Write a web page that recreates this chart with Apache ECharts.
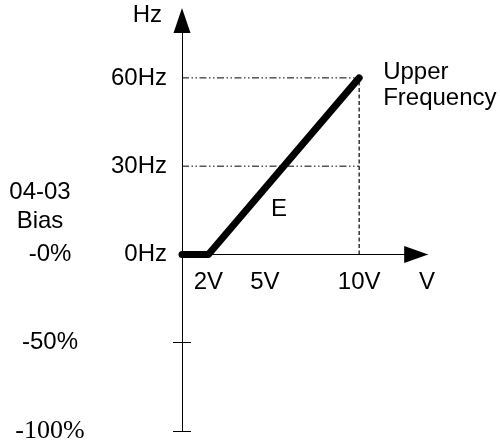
<!DOCTYPE html>
<html>
<head>
<meta charset="utf-8">
<script src="https://cdn.jsdelivr.net/npm/echarts@6/dist/echarts.min.js"></script>
<style>
html, body { margin: 0; padding: 0; background: #fff; }
#chart { width: 500px; height: 445px; }
</style>
</head>
<body>
<div id="chart"></div>
<script>
// curve E: bias -0%, output starts at 2V and reaches upper frequency at 10V
const voltage = [0.6, 2, 10]      // first point sits on the Hz axis
const freq = [0, 0, 60]
const vTicks = [2, 5, 10]
const vUnit = 'V'                 // unit label at the arrow end
const hzTicks = [0, 30, 60]
const guideHz = [30, 60]          // dash-dot guides
const upperV = 10
const upperHz = 60
const biasValues = [0, -30, -60]
const biasLabels = ['-0%', '-50%', '-100%']

const X_MIN = 0.6, X_MAX = 13.6
const Y_MIN = -60, Y_MAX = 79.5
const FONT = 'Liberation Sans'
const FS = 24

const myChart = echarts.init(document.getElementById('chart'))

// upper grid holds the V axis at 0Hz, lower grids carry the negative bias part
const upperGrid = { left: 182, right: 73, top: 20.5, bottom: 190.56, outerBoundsMode: 'none', containLabel: false }
const fullGrid = { left: 182, right: 73, top: 20.5, bottom: 14, outerBoundsMode: 'none', containLabel: false }

const guides = guideHz.map(h => ({
    type: 'line',
    xAxisIndex: 0, yAxisIndex: 0,
    data: [[X_MIN, h], [upperV, h]],
    showSymbol: false,
    silent: true,
    clip: false,
    lineStyle: { color: '#000', width: 1, type: [7, 2.5, 1.5, 2.5, 1.5, 2.5] },
    z: 1
}))

const options = {
    animation: false,
    grid: [upperGrid, Object.assign({}, fullGrid), Object.assign({}, fullGrid)],
    xAxis: [
        {
            type: 'value',
            gridIndex: 0,
            min: X_MIN,
            max: X_MAX,
            position: 'bottom',
            splitLine: { show: false },
            axisLine: {
                onZero: false,
                symbol: ['none', 'triangle'],
                symbolSize: [17, 24],
                symbolOffset: [0, -10.8],
                lineStyle: { color: '#000', width: 1 }
            },
            axisTick: { show: false },
            axisLabel: {
                customValues: vTicks.concat([X_MAX]),
                formatter: v => (v === X_MAX ? vUnit : v + 'V'),
                margin: 16,
                color: '#000',
                fontFamily: FONT,
                fontSize: FS
            }
        },
        { type: 'value', gridIndex: 1, min: X_MIN, max: X_MAX, show: false },
        { type: 'value', gridIndex: 2, min: X_MIN, max: X_MAX, show: false }
    ],
    yAxis: [
        {
            type: 'value',
            gridIndex: 0,
            min: 0,
            max: Y_MAX,
            splitLine: { show: false },
            axisLine: {
                onZero: false,
                symbol: ['none', 'triangle'],
                symbolSize: [17, 25],
                lineStyle: { color: '#000', width: 1 }
            },
            axisTick: { show: false },
            axisLabel: {
                customValues: hzTicks,
                formatter: v => v + 'Hz',
                margin: 15,
                color: '#000',
                fontFamily: FONT,
                fontSize: FS
            },
            name: 'Hz',
            nameLocation: 'end',
            nameGap: 5,
            nameTextStyle: {
                color: '#000',
                fontFamily: FONT,
                fontSize: FS,
                align: 'right',
                verticalAlign: 'middle',
                padding: [0, 20, 0, 0]
            }
        },
        {
            // lower part of the Hz axis with the bias scale far left
            type: 'value',
            gridIndex: 1,
            min: Y_MIN,
            max: Y_MAX,
            splitLine: { show: false },
            axisLine: { onZero: false, lineStyle: { color: '#000', width: 1 } },
            axisTick: {
                customValues: [-30, -60],
                length: 9,
                lineStyle: { color: '#000', width: 1 }
            },
            axisLabel: {
                customValues: biasValues,
                formatter: v => {
                    const i = biasValues.indexOf(v)
                    return i === biasValues.length - 1 ? '{s|' + biasLabels[i] + '}' : biasLabels[i]
                },
                align: 'center',
                margin: 132,
                color: '#000',
                fontFamily: FONT,
                fontSize: FS,
                rich: {
                    s: { fontFamily: 'Liberation Serif', fontSize: 26, color: '#000' }
                }
            }
        },
        {
            // inner half of the crossing ticks
            type: 'value',
            gridIndex: 2,
            min: Y_MIN,
            max: Y_MAX,
            splitLine: { show: false },
            axisLine: { show: false },
            axisLabel: { show: false },
            axisTick: {
                customValues: [-30, -60],
                inside: true,
                length: 9,
                lineStyle: { color: '#000', width: 1 }
            }
        }
    ],
    graphic: [
        { type: 'text', style: { text: '04-03', fontFamily: FONT, fontSize: FS, fill: '#000', align: 'center', verticalAlign: 'middle', x: 40, y: 192 } },
        { type: 'text', style: { text: 'Bias', fontFamily: FONT, fontSize: FS, fill: '#000', align: 'center', verticalAlign: 'middle', x: 40, y: 221 } },
        { type: 'text', style: { text: 'E', fontFamily: FONT, fontSize: FS, fill: '#000', align: 'center', verticalAlign: 'middle', x: 279, y: 209 } }
    ],
    series: guides.concat([
        {
            type: 'line',
            xAxisIndex: 0, yAxisIndex: 0,
            data: [[upperV, 0], [upperV, upperHz]],
            showSymbol: false,
            silent: true,
            clip: false,
            lineStyle: { color: '#000', width: 1.2, type: [4, 2.5] },
            z: 1
        },
        {
            name: 'E',
            type: 'line',
            xAxisIndex: 0, yAxisIndex: 0,
            data: voltage.map((v, i) => [v, freq[i]]),
            showSymbol: false,
            silent: true,
            clip: false,
            lineStyle: { color: '#000', width: 7, cap: 'round', join: 'round' },
            z: 3,
            markPoint: {
                symbol: 'circle',
                symbolSize: 0,
                silent: true,
                data: [{ coord: [upperV, upperHz] }],
                label: {
                    show: true,
                    formatter: 'Upper\nFrequency',
                    position: 'right',
                    distance: 24,
                    offset: [0, 7],
                    align: 'left',
                    color: '#000',
                    fontFamily: FONT,
                    fontSize: FS,
                    lineHeight: 26
                }
            }
        }
    ])
}
myChart.setOption(options)
</script>
</body>
</html>
